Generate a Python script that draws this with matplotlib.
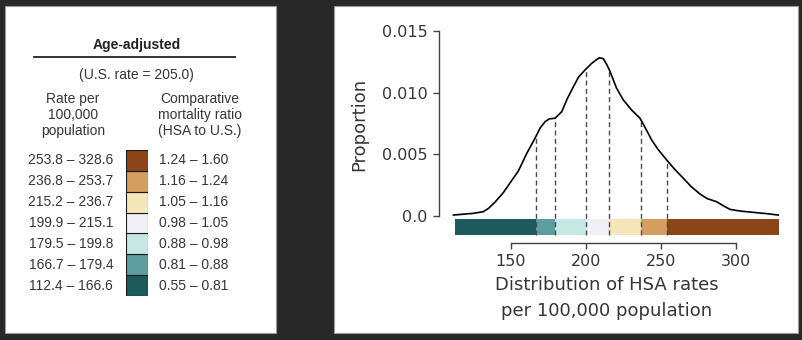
import matplotlib
matplotlib.use("Agg")
import matplotlib.pyplot as plt
from matplotlib.patches import Rectangle
from matplotlib.lines import Line2D
import numpy as np

# classes of the age-adjusted HSA rate (per 100,000), low to high
rate_lower = [112.4, 166.7, 179.5, 199.9, 215.2, 236.8, 253.8]
rate_upper = [166.6, 179.4, 199.8, 215.1, 236.7, 253.7, 328.6]
ratio_lower = [0.55, 0.81, 0.88, 0.98, 1.05, 1.16, 1.24]
ratio_upper = [0.81, 0.88, 0.98, 1.05, 1.16, 1.24, 1.60]
class_colors = ["#1d5a5c", "#5e9ea0", "#c6e8e2", "#f1eff6",
                "#f7e6b8", "#d49f5e", "#8b4518"]
us_rate = 205.0

# density of HSA rates
curve_x = [111.6, 119.3, 124.9, 131.5, 135.0, 139.3, 144.9, 148.2, 154.9, 157.1,
           160.4, 166.0, 169.5, 172.7, 175.5, 179.3, 183.8, 187.5, 191.6, 195.0,
           199.3, 203.8, 206.5, 208.9, 211.5, 213.5, 215.6, 218.0, 220.4, 224.9,
           230.4, 236.0, 239.5, 243.8, 248.0, 253.8, 259.0, 264.9, 270.0, 276.0,
           281.0, 287.1, 292.0, 296.0, 303.0, 309.0, 313.8, 320.0, 328.2]
curve_y = [0.00008, 0.00016, 0.00022, 0.00035, 0.00062, 0.00112, 0.00190, 0.00248, 0.00365, 0.00420,
           0.00505, 0.00630, 0.00715, 0.00764, 0.00787, 0.00792, 0.00845, 0.00950, 0.01048, 0.01125,
           0.01183, 0.01237, 0.01262, 0.01282, 0.01275, 0.01235, 0.01183, 0.01110, 0.01035, 0.00940,
           0.00859, 0.00792, 0.00715, 0.00616, 0.00540, 0.00454, 0.00380, 0.00306, 0.00240, 0.00178,
           0.00140, 0.00116, 0.00080, 0.00054, 0.00040, 0.00033, 0.00027, 0.00020, 0.00008]

W, H = 802, 340
BG = "#282828"
TXT = "#363636"


def fx(x):
    return x / W


def fy(y):
    return 1 - y / H


fig = plt.figure(figsize=(W / 100, H / 100), dpi=100, facecolor=BG)

# white cards, kept under the axes
for x0, x1 in [(5, 276), (334, 798)]:
    fig.patches.append(Rectangle((fx(x0), fy(333)), (x1 - x0) / W, 327 / H,
                                 transform=fig.transFigure, facecolor="white",
                                 edgecolor="#9a9a9a", lw=0.8, zorder=-5))

# ---- legend card ----
lf = "Liberation Sans"
fig.text(fx(137), fy(45), "Age-adjusted", ha="center", va="center",
         fontsize=10, fontweight="bold", family=lf, color="#222")
fig.add_artist(Line2D([fx(34), fx(235)], [fy(57), fy(57)], color="#222", lw=1.3,
                      transform=fig.transFigure))
fig.text(fx(136), fy(75), f"(U.S. rate = {us_rate:.1f})", ha="center", va="center",
         fontsize=10, family=lf, color=TXT)
for i, (a, b) in enumerate(zip(["Rate per", "100,000", "population"],
                               ["Comparative", "mortality ratio", "(HSA to U.S.)"])):
    yy = fy(99 + i * 16)
    fig.text(fx(73), yy, a, ha="center", va="center", fontsize=10, family=lf, color=TXT)
    fig.text(fx(200), yy, b, ha="center", va="center", fontsize=10, family=lf, color=TXT)

lax = fig.add_axes([fx(125.7), fy(296), (147.7 - 125.7) / W, (296 - 150) / H])
n = len(class_colors)
rows = np.arange(n)  # lowest class at the bottom
lax.barh(rows, 1, height=1, left=0, color=class_colors, edgecolor="#1a1a1a", lw=0.8)
lax.set_xlim(0, 1)
lax.set_ylim(-0.5, n - 0.5)
lax.axis("off")
for r, lo, hi, rlo, rhi in zip(rows, rate_lower, rate_upper, ratio_lower, ratio_upper):
    lax.text(-0.57, r, f"{lo:.1f} \u2013 {hi:.1f}", ha="right", va="center",
             fontsize=10, family=lf, color=TXT, clip_on=False)
    lax.text(1.51, r, f"{rlo:.2f} \u2013 {rhi:.2f}", ha="left", va="center",
             fontsize=10, family=lf, color=TXT, clip_on=False)

# ---- distribution card ----
ax = fig.add_axes([fx(443.5), fy(242.7), (788.5 - 443.5) / W, (242.7 - 24.7) / H])
ax.set_facecolor("none")
ax.plot(curve_x, curve_y, color="black", lw=1.2, zorder=4)

bar_top, bar_bot = -0.00027, -0.00154
widths = [nxt - lo for lo, nxt in zip(rate_lower, rate_lower[1:] + [rate_upper[-1]])]
ax.barh((bar_top + bar_bot) / 2, widths, height=bar_top - bar_bot, left=rate_lower,
        color=class_colors, lw=0, zorder=2)

for b in rate_lower[1:]:
    top = np.interp(b, curve_x, curve_y)
    ax.plot([b, b], [bar_bot, top], color="#4a4a4a", lw=1.0,
            dashes=(3.6, 2.4), zorder=3)

ax.set_xlim(105, 335)
ax.set_ylim(-0.00216, 0.0155)
ax.set_xticks([150, 200, 250, 300])
ax.set_yticks([0.0, 0.005, 0.010, 0.015])
ax.set_yticklabels(["0.0", "0.005", "0.010", "0.015"])
for s in ["top", "right"]:
    ax.spines[s].set_visible(False)
ax.spines["left"].set_bounds(0, 0.015)
ax.spines["left"].set_position(("outward", 3.5))
ax.spines["bottom"].set_bounds(150, 300)
for s in ["left", "bottom"]:
    ax.spines[s].set_color("#444")
    ax.spines[s].set_linewidth(1.0)
ax.tick_params(length=4, width=1.0, color="#444", labelcolor=TXT,
               labelsize=11.5, pad=4)
for lab in ax.get_xticklabels() + ax.get_yticklabels():
    lab.set_family("DejaVu Sans")

fig.text(fx(359), fy(124), "Proportion", rotation=90, ha="center", va="center",
         fontsize=13, color=TXT)
fig.text(fx(607), fy(285.5), "Distribution of HSA rates", ha="center", va="center",
         fontsize=13, color=TXT)
fig.text(fx(607), fy(311.5), "per 100,000 population", ha="center", va="center",
         fontsize=13, color=TXT)

fig.savefig("out.png", dpi=100, facecolor=BG)
